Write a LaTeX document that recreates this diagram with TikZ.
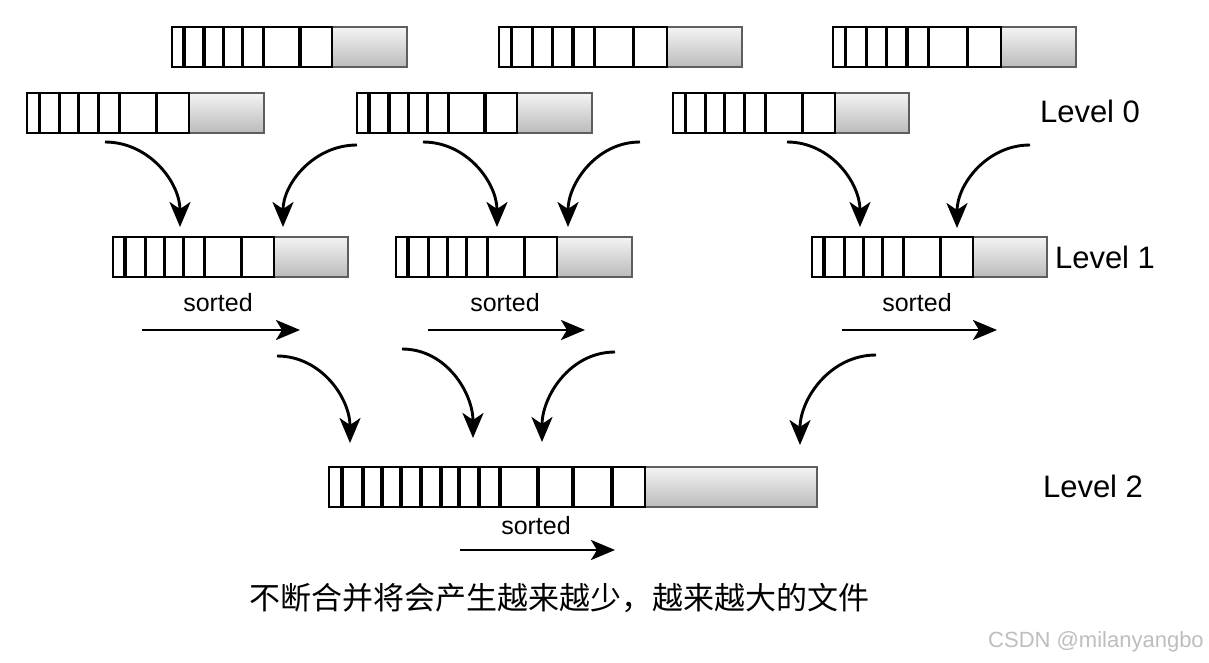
\documentclass[tikz,border=0pt]{standalone}
\usepackage{fontspec}
\setmainfont{Liberation Sans}
\newfontfamily\cjk{Noto Sans CJK SC}
\usetikzlibrary{arrows.meta}
\definecolor{graybord}{HTML}{5E5E5E}
\definecolor{gtop}{HTML}{F4F4F4}
\definecolor{gbot}{HTML}{BBBBBB}
\definecolor{wmgray}{HTML}{BEBEBE}
\tikzset{
  cellbox/.style={draw=black, line width=2.8pt, fill=white},
  graybox/.style={draw=graybord, line width=2.6pt, top color=gtop, bottom color=gbot},
  divider/.style={draw=black, line width=3.2pt},
  flow/.style={line width=2.9pt, -{Stealth[length=25pt,width=21pt,inset=7pt]}},
  sortarrow/.style={line width=2.9pt, -{Stealth[length=24pt,width=20pt,inset=6pt]}},
  leveltext/.style={font=\fontsize{31}{33}\selectfont},
  sortedtext/.style={font=\fontsize{25}{27}\selectfont},
}
\newcommand\mybar[5]{%
  \path[graybox] (#2+#4,#3) rectangle ++(#5,40);
  \path[cellbox] (#2,#3) rectangle ++(#4,40);
  \foreach \f in {0.075,0.2,0.32,0.44,0.57,0.8} \draw[divider] (#2+\f*#4,#3) -- ++(0,40);
  \coordinate (#1) at (#2,#3);
}
\begin{document}
\begin{tikzpicture}[x=1pt,y=-1pt]
\useasboundingbox[fill=white] (0,0) rectangle (1209,663);
% Level 0
\mybar{barA}{172}{27}{160}{75}
\mybar{barB}{499}{27}{168}{75}
\mybar{barC}{833}{27}{168}{75}
\mybar{barD}{27}{93}{162}{75}
\mybar{barE}{357}{93}{160}{75}
\mybar{barF}{673}{93}{162}{74}
% Level 1
\mybar{barG}{113}{237}{161}{74}
\mybar{barH}{396}{237}{161}{75}
\mybar{barI}{812}{237}{161}{74}
% Level 2
\path[graybox] (645,467) rectangle (817,507);
\path[cellbox] (329,467) rectangle (645,507);
\foreach \d in {13,34,53,72,92,112,130,150,171,209,244,283} \draw[divider] (329+\d,467) -- ++(0,40);
\coordinate (barJ) at (329,467);
% labels
\node[leveltext] (lv0) at (1090,111) {Level 0};
\node[leveltext] (lv1) at (1105,257) {Level 1};
\node[leveltext] (lv2) at (1093,486) {Level 2};
\node[sortedtext] (s1) at (218,303) {sorted};
\node[sortedtext] (s2) at (505,303) {sorted};
\node[sortedtext] (s3) at (917,303) {sorted};
\node[sortedtext] (s4) at (536,526) {sorted};
\node[font=\cjk\fontsize{31}{33}\selectfont] (caption) at (559,598) {不断合并将会产生越来越少，越来越大的文件};
\node[font=\fontsize{22}{24}\selectfont, text=wmgray] (wm) at (1096,642) {CSDN @milanyangbo};
% merge arrows level 0 -> 1
\coordinate (a1s) at (105,142); \coordinate (a1e) at (180,227);
\coordinate (a2s) at (357,145); \coordinate (a2e) at (283,227);
\coordinate (a3s) at (423,142); \coordinate (a3e) at (497,227);
\coordinate (a4s) at (640,142); \coordinate (a4e) at (568,227);
\coordinate (a5s) at (787,142); \coordinate (a5e) at (860,227);
\coordinate (a6s) at (1030,145); \coordinate (a6e) at (957,228);
\draw[flow] (a1s) to[out=0,in=90] (a1e);
\draw[flow] (a2s) to[out=180,in=90] (a2e);
\draw[flow] (a3s) to[out=0,in=90] (a3e);
\draw[flow] (a4s) to[out=180,in=90] (a4e);
\draw[flow] (a5s) to[out=0,in=90] (a5e);
\draw[flow] (a6s) to[out=180,in=90] (a6e);
% merge arrows level 1 -> 2
\coordinate (b1s) at (277,356); \coordinate (b1e) at (350,443);
\coordinate (b2s) at (402,349); \coordinate (b2e) at (473,438);
\coordinate (b3s) at (615,352); \coordinate (b3e) at (542,442);
\coordinate (b4s) at (876,355); \coordinate (b4e) at (800,445);
\draw[flow] (b1s) to[out=0,in=90] (b1e);
\draw[flow] (b2s) to[out=0,in=90] (b2e);
\draw[flow] (b3s) to[out=180,in=90] (b3e);
\draw[flow] (b4s) to[out=180,in=90] (b4e);
% sorted arrows
\coordinate (c1s) at (142,330); \coordinate (c1e) at (300,330);
\coordinate (c2s) at (428,330); \coordinate (c2e) at (585,330);
\coordinate (c3s) at (842,330); \coordinate (c3e) at (997,330);
\coordinate (c4s) at (460,550); \coordinate (c4e) at (615,550);
\draw[sortarrow] (c1s) -- (c1e);
\draw[sortarrow] (c2s) -- (c2e);
\draw[sortarrow] (c3s) -- (c3e);
\draw[sortarrow] (c4s) -- (c4e);
\end{tikzpicture}
\end{document}
